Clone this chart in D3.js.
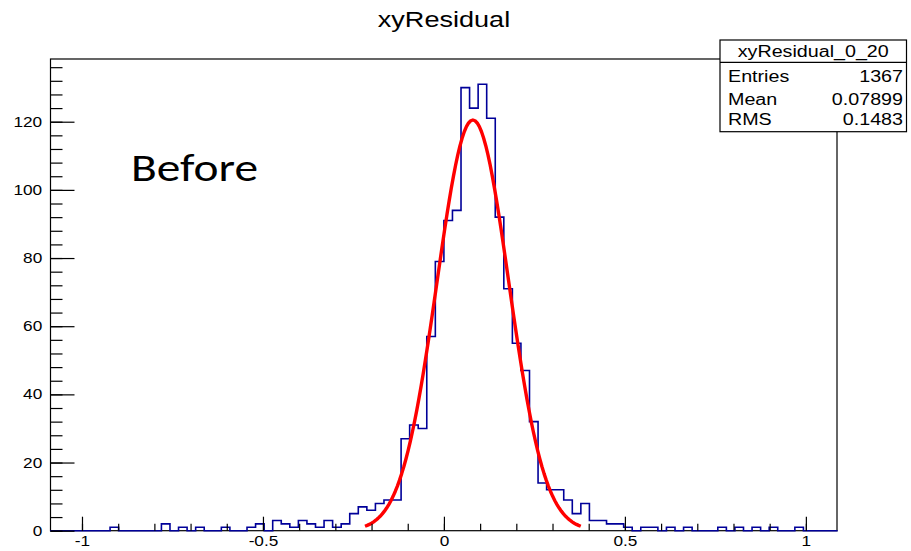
<!DOCTYPE html>
<html>
<head>
<meta charset="utf-8">
<script src="https://cdn.jsdelivr.net/npm/d3@7"></script>
<style>
  body { margin: 0; background: #fff; }
  text { fill: #000; }
</style>
</head>
<body>
<div id="chart"></div>
<script>
// histogram bins (xyResidual), 92 bins starting at binStart
const binStart = -1.088,
      binWidth = 0.02365;
const counts = [
  0, 0, 0, 0, 0, 0, 0, 1, 0, 0,
  0, 0, 0, 2, 0, 1, 0, 1, 0, 0,
  1, 0, 0, 1, 2, 0, 3, 2, 1, 3,
  2, 1, 3, 1, 2, 5, 7, 6, 8, 9,
  9, 27, 31, 30, 57, 79, 91, 94, 130, 124,
  131, 121, 92, 71, 55, 47, 32, 14, 12, 12,
  9, 5, 8, 3, 3, 2, 2, 1, 0, 1,
  1, 0, 1, 0, 1, 0, 0, 0, 1, 0,
  1, 0, 1, 0, 1, 0, 0, 1, 0, 0,
  0, 0
];

// gaussian fit: constant, mean, sigma, fit range
const fitParams = [120.5, 0.080, 0.099];
const fitRange = [-0.218, 0.378];

const xMajorTicks = [-1, -0.5, 0, 0.5, 1];
const xTickLabels = ["-1", "-0.5", "0", "0.5", "1"];
const xMinorTicks = [-1, -0.9, -0.8, -0.7, -0.6, -0.5, -0.4, -0.3, -0.2, -0.1, 0,
                     0.1, 0.2, 0.3, 0.4, 0.5, 0.6, 0.7, 0.8, 0.9, 1];
const yMajorTicks = [0, 20, 40, 60, 80, 100, 120];
const yMinorTicks = d3.range(0, 137, 4);

const statsTitle = "xyResidual_0_20";
const statsNames = ["Entries", "Mean", "RMS"];
const statsValues = ["1367", "0.07899", "0.1483"];

const width = 911, height = 551,
      frame = { left: 50.5, right: 837, top: 59, bottom: 530.7 };
const stretch = 1.23; // text in the picture is wider than it is tall
const sans = "'Liberation Sans', Arial, Helvetica, sans-serif";

const svg = d3.select("#chart").append("svg")
    .attr("width", width)
    .attr("height", height);

const x = d3.scaleLinear()
    .domain([-1.087, 1.086])
    .range([frame.left, frame.right]);

const y = d3.scaleLinear()
    .domain([0, 138.4])
    .range([frame.bottom, frame.top]);

// frame
svg.append("rect")
    .attr("x", frame.left).attr("y", frame.top)
    .attr("width", frame.right - frame.left)
    .attr("height", frame.bottom - frame.top)
    .attr("fill", "none").attr("stroke", "#000").attr("stroke-width", 1.2);

// histogram outline as steps
let steps = [];
counts.forEach((c, i) => {
    let lo = binStart + i * binWidth;
    steps.push([lo, c], [lo + binWidth, c]);
});

svg.append("path")
    .datum(steps)
    .attr("fill", "none")
    .attr("stroke", "#000099")
    .attr("stroke-width", 1.6)
    .attr("d", d3.line().x(d => x(d[0])).y(d => y(d[1])));

// fit curve, 100 points over the fit range like ROOT does
const gaus = v => fitParams[0] * Math.exp(-0.5 * ((v - fitParams[1]) / fitParams[2]) ** 2);
const fitX = d3.range(101).map(i => fitRange[0] + i * (fitRange[1] - fitRange[0]) / 100);

svg.append("path")
    .datum(fitX)
    .attr("fill", "none")
    .attr("stroke", "#ff0000")
    .attr("stroke-width", 3.4)
    .attr("stroke-linejoin", "round")
    .attr("d", d3.line().x(d => x(d)).y(d => y(gaus(d))));

// axes, ticks point inward
svg.append("g")
    .attr("transform", `translate(0,${frame.bottom})`)
    .call(d3.axisBottom(x).tickValues(xMinorTicks).tickSizeInner(-7).tickSizeOuter(0).tickFormat(""))
    .call(g => g.select(".domain").remove());

svg.append("g")
    .attr("class", "lab")
    .attr("transform", `translate(0,${frame.bottom})`)
    .call(d3.axisBottom(x).tickValues(xMajorTicks).tickSizeInner(-14).tickSizeOuter(0).tickPadding(5.5)
        .tickFormat((d, i) => xTickLabels[i]))
    .call(g => g.select(".domain").remove());

svg.append("g")
    .attr("transform", `translate(${frame.left},0)`)
    .call(d3.axisLeft(y).tickValues(yMinorTicks).tickSizeInner(-12).tickSizeOuter(0).tickFormat(""))
    .call(g => g.select(".domain").remove());

svg.append("g")
    .attr("class", "lab")
    .attr("transform", `translate(${frame.left},0)`)
    .call(d3.axisLeft(y).tickValues(yMajorTicks).tickSizeInner(-24).tickSizeOuter(0).tickPadding(8.3))
    .call(g => g.select(".domain").remove());

svg.selectAll(".tick line").attr("stroke", "#000").attr("stroke-width", 1.2);
svg.selectAll(".lab text")
    .attr("font-size", 14)
    .attr("fill", "#222");

// title
svg.append("text")
    .attr("x", 444).attr("y", 27)
    .attr("text-anchor", "middle")
    .attr("font-size", 22)
    .text("xyResidual");

// stats box
const box = { x0: 720, x1: 906.5, y0: 40, y1: 131.7, sep: 62.3 };
svg.append("rect")
    .attr("x", box.x0).attr("y", box.y0)
    .attr("width", box.x1 - box.x0).attr("height", box.y1 - box.y0)
    .attr("fill", "#fff").attr("stroke", "#000").attr("stroke-width", 1.2);
svg.append("line")
    .attr("x1", box.x0).attr("x2", box.x1)
    .attr("y1", box.sep).attr("y2", box.sep)
    .attr("stroke", "#000").attr("stroke-width", 1.2);

svg.append("text")
    .attr("x", (box.x0 + box.x1) / 2).attr("y", 56.5)
    .attr("text-anchor", "middle")
    .attr("font-size", 16)
    .text(statsTitle);

const rowY = [81.5, 105, 125];
statsNames.forEach((n, i) => {
    svg.append("text").attr("x", 728).attr("y", rowY[i])
        .attr("font-size", 16).text(n);
    svg.append("text").attr("x", 903).attr("y", rowY[i])
        .attr("text-anchor", "end")
        .attr("font-size", 16).text(statsValues[i]);
});

// widen every label to match the picture
svg.selectAll("text")
    .style("font-family", sans)
    .each(function() {
        let t = d3.select(this);
        if (!t.text()) return;
        t.attr("textLength", this.getComputedTextLength() * stretch)
         .attr("lengthAdjust", "spacingAndGlyphs");
    });

// annotation, in a Calibri-like face
svg.append("text")
    .attr("x", 131).attr("y", 181)
    .style("font-family", "Carlito, Lato, 'Open Sans', sans-serif")
    .attr("font-size", 38)
    .attr("textLength", 127)
    .attr("lengthAdjust", "spacingAndGlyphs")
    .text("Before");
</script>
</body>
</html>
